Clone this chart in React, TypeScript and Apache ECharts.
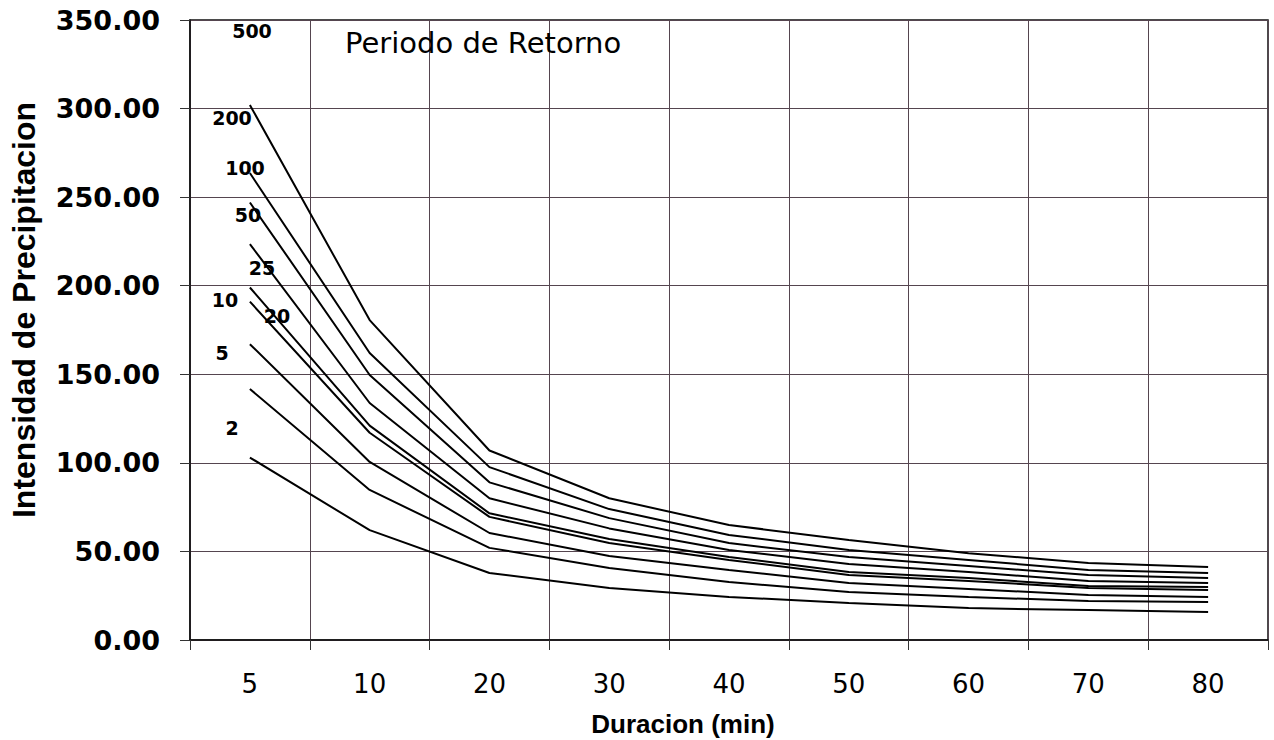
import React, { useEffect, useRef } from "react";
import * as echarts from "echarts";

const categories = ["5", "10", "20", "30", "40", "50", "60", "70", "80"];

const seriesNames = ["500", "200", "100", "50", "25", "20", "10", "5", "2"];

const t500 = [302, 180.6, 107, 80, 64.9, 56.5, 49, 43.5, 41.2];
const t200 = [263.6, 162, 97.6, 73.9, 59.3, 50.8, 45.2, 39.5, 37.8];
const t100 = [247, 149.6, 89, 68.8, 54.7, 46.9, 41.8, 36.7, 35];
const t50 = [223.5, 133.8, 80, 63, 50.8, 42.9, 38.4, 33.3, 32.2];
const t25 = [199, 121, 71.5, 57, 46.9, 38.4, 35, 30.5, 29.9];
const t20 = [191, 117, 69.5, 54.8, 45.2, 36.7, 33.3, 29.4, 28.2];
const t10 = [167, 100.5, 60.4, 47.4, 39.5, 32.2, 28.8, 25.4, 24.3];
const t5 = [141.7, 84.7, 52, 40.6, 32.7, 27.1, 24.3, 22, 21.4];
const t2 = [103, 62, 37.8, 29.4, 24.3, 20.9, 18, 16.9, 15.8];

const seriesValues = [t500, t200, t100, t50, t25, t20, t10, t5, t2];

// label texts for the return periods
const periodLabels = ["500", "200", "100", "50", "25", "10", "20", "5", "2"];

export default function App() {
  const ref = useRef<HTMLDivElement>(null);

  useEffect(() => {
    if (!ref.current) return;
    const chart = echarts.init(ref.current, null, { renderer: "svg" });
    const gridColor = "#55454f";
    const labelPos = [
      [252, 31],
      [232, 118],
      [245, 168],
      [248, 215],
      [262, 268],
      [225, 300],
      [277, 316],
      [222, 353],
      [232, 428],
    ];
    chart.setOption({
      animation: false,
      backgroundColor: "#ffffff",
      grid: {
        left: 190,
        right: 6,
        top: 20,
        bottom: 100,
        show: true,
        borderColor: "#111",
        borderWidth: 1.5,
        containLabel: false,
        outerBoundsMode: "none",
      },
      xAxis: {
        type: "category",
        data: categories,
        boundaryGap: true,
        name: "Duracion (min)",
        nameLocation: "middle",
        nameGap: 70,
        nameTextStyle: {
          fontFamily: "Liberation Sans",
          fontWeight: "bold",
          fontSize: 26,
          lineHeight: 28,
          color: "#000",
          padding: [0, 92, 0, 0],
        },
        axisLine: { show: true, lineStyle: { color: "#111", width: 1.5 } },
        axisTick: { show: true, length: 10, lineStyle: { color: "#333" } },
        axisLabel: {
          margin: 31,
          fontFamily: "DejaVu Sans",
          fontSize: 26,
          color: "#000",
        },
        splitLine: { show: true, lineStyle: { color: gridColor, width: 1 } },
      },
      yAxis: {
        type: "value",
        min: 0,
        max: 350,
        interval: 50,
        name: "Intensidad de Precipitacion",
        nameLocation: "middle",
        nameGap: 150,
        nameTextStyle: {
          fontFamily: "Liberation Sans",
          fontWeight: "bold",
          fontSize: 32,
          color: "#000",
          padding: [0, 0, 0, 40],
        },
        axisLine: { show: true, lineStyle: { color: "#111", width: 1.5 } },
        axisTick: { show: true, length: 10, lineStyle: { color: "#333" } },
        axisLabel: {
          margin: 30,
          fontFamily: "DejaVu Sans",
          fontWeight: "bold",
          fontSize: 27,
          color: "#000",
          formatter: (v: number) => v.toFixed(2),
        },
        splitLine: { show: true, lineStyle: { color: gridColor, width: 1 } },
      },
      series: seriesValues.map((vals, i) => ({
        name: seriesNames[i],
        type: "line",
        data: vals,
        symbol: "none",
        lineStyle: { color: "#000", width: 2 },
        z: 3,
      })),
      graphic: [
        {
          type: "text",
          x: 345,
          y: 43,
          style: {
            text: "Periodo de Retorno",
            fontFamily: "DejaVu Sans",
            fontSize: 29,
            fill: "#000",
            verticalAlign: "middle",
          },
          z: 10,
        },
        ...periodLabels.map((t, i) => ({
          type: "text",
          x: labelPos[i][0],
          y: labelPos[i][1],
          style: {
            text: t,
            fontFamily: "DejaVu Sans",
            fontWeight: "bold",
            fontSize: 19,
            fill: "#000",
            align: "center",
            verticalAlign: "middle",
          },
          z: 10,
        })),
      ],
    });
    return () => chart.dispose();
  }, []);

  return (
    <div
      ref={ref}
      style={{ position: "fixed", left: 0, top: 0, width: 1274, height: 740 }}
    />
  );
}
